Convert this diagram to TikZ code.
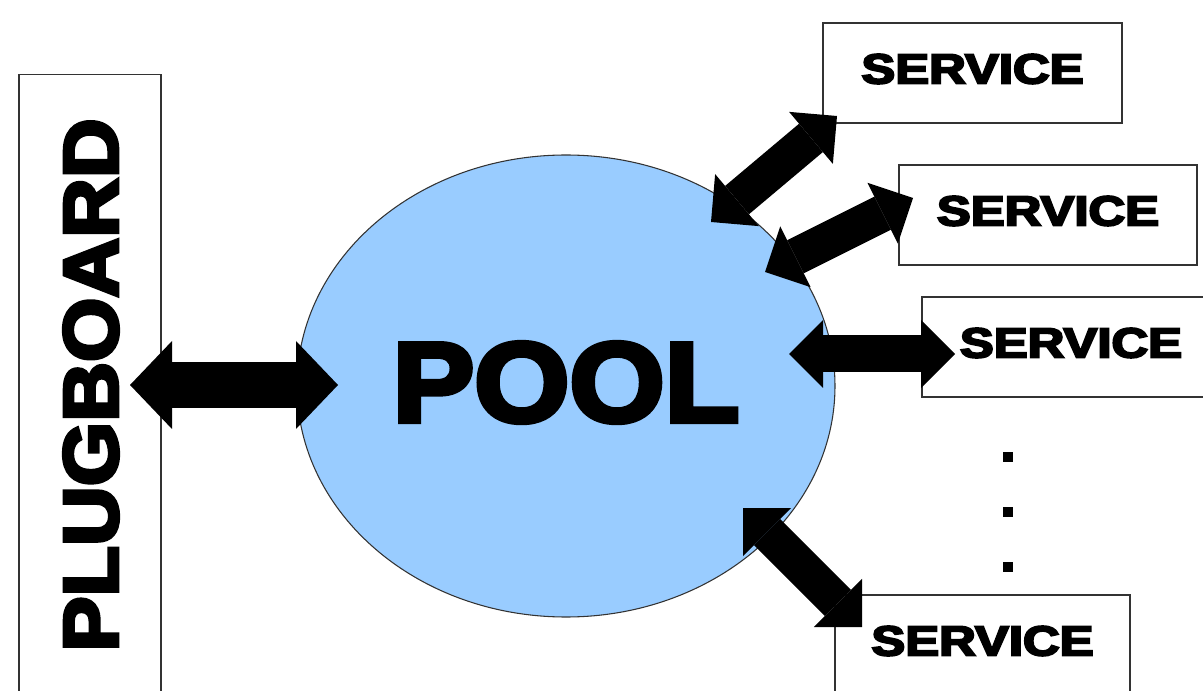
\documentclass[tikz,border=0pt]{standalone}
\usepackage{fontspec}
\newfontfamily\heavy{Liberation Sans Bold}[FakeBold=4.5]
\usetikzlibrary{arrows.meta,shapes.geometric}
\definecolor{poolblue}{HTML}{99CCFF}
\definecolor{edge}{HTML}{333333}

\begin{document}
\begin{tikzpicture}[x=0.75pt,y=-0.75pt,
  frame/.style={draw=edge, line width=1.1pt, fill=white, inner sep=0pt},
  svc/.style={frame, minimum height=75pt},
  svclabel/.style={inner sep=0pt, font=\heavy\fontsize{31.5}{31.5}\selectfont},
  dot/.style={fill=black, inner sep=0pt, minimum size=7.5pt},
  link/.style={line width=27.75pt,
    {Triangle[length=25.5pt,width=51pt,line width=0pt]}-{Triangle[length=25.5pt,width=51pt,line width=0pt]}},
  biglink/.style={line width=34.5pt,
    {Triangle[length=31.5pt,width=66pt,line width=0pt]}-{Triangle[length=31.5pt,width=66pt,line width=0pt]}}]
\useasboundingbox (0,0) rectangle (1203,691);
\clip (0,0) rectangle (1203,691);

% plugboard column on the left
\node[frame, minimum width=106.5pt, minimum height=469pt] (pb) at (90,387) {};
\node[rotate=90, inner sep=0pt, font=\heavy\fontsize{58}{58}\selectfont]
  (pbtext) at (91,385) {\scalebox{1.07}[1]{PLUGBOARD}};

% the pool
\node[ellipse, draw=edge, line width=0.8pt, fill=poolblue, inner sep=0pt,
  minimum width=403.5pt, minimum height=346.5pt,
  label={[inner sep=0pt, yshift=2.6pt, font=\heavy\fontsize{85}{85}\selectfont]center:\scalebox{1.08}[1]{POOL}}]
  (pool) at (566,386) {};

% services
\node[svc, minimum width=224.25pt,
  label={[svclabel,yshift=3pt]center:\scalebox{1.21}[1]{SERVICE}}] (s1) at (972.5,73) {};
\node[svc, minimum width=223.5pt,
  label={[svclabel,yshift=3pt]center:\scalebox{1.21}[1]{SERVICE}}] (s2) at (1048,215) {};
\node[svc, minimum width=223.5pt,
  label={[svclabel,yshift=3pt]center:\scalebox{1.21}[1]{SERVICE}}] (s3) at (1071,347) {};
\node[svc, minimum width=221.25pt,
  label={[svclabel,yshift=3pt]center:\scalebox{1.21}[1]{SERVICE}}] (s4) at (982.5,645) {};

% ellipsis between the services
\node[dot] (d1) at (1008,457) {};
\node[dot] (d2) at (1008,512) {};
\node[dot] (d3) at (1008,567) {};

% arrow end points
\coordinate (pbEnd)   at (130,385);
\coordinate (poolW)   at (338,385);
\coordinate (poolA)   at (711,222);
\coordinate (s1End)   at (837,116);
\coordinate (poolB)   at (765,272);
\coordinate (s2End)   at (913,198);
\coordinate (poolC)   at (789,354);
\coordinate (s3End)   at (955,354);
\coordinate (poolD)   at (743,508);
\coordinate (s4End)   at (862,627);

% double-headed block arrows
\draw[biglink] (pbEnd) -- (poolW);
\draw[link] (poolA) -- (s1End);
\draw[link] (poolB) -- (s2End);
\draw[link] (poolC) -- (s3End);
\draw[link] (poolD) -- (s4End);
\end{tikzpicture}
\end{document}
